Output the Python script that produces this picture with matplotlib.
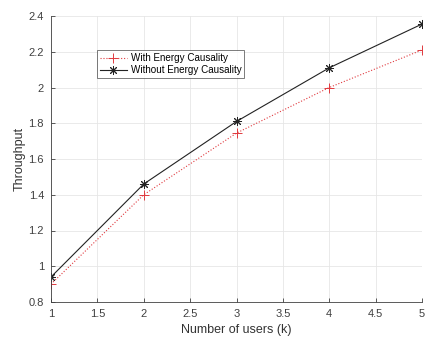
import matplotlib
matplotlib.use("Agg")
import matplotlib.pyplot as plt

plt.rcParams['font.family'] = ['Liberation Sans', 'DejaVu Sans']

users = [1, 2, 3, 4, 5]
with_ec = [0.90, 1.40, 1.745, 2.00, 2.21]
without_ec = [0.94, 1.46, 1.81, 2.11, 2.355]

fig = plt.figure(figsize=(4.29, 3.44), dpi=100)
ax = fig.add_axes([51 / 429, 42 / 344, 371 / 429, 286 / 344])

ax.plot(users, with_ec, color='#e0393e', linestyle=':', linewidth=0.8,
        marker='+', markersize=7, markeredgewidth=0.7, label='With Energy Causality')
ax.plot(users, without_ec, color='#222222', linestyle='-', linewidth=0.8,
        marker=(8, 2, 0), markersize=6.5, markeredgewidth=0.7, label='Without Energy Causality')

ax.set_xlim(1, 5)
ax.set_ylim(0.8, 2.4)
ax.set_xticks([1, 1.5, 2, 2.5, 3, 3.5, 4, 4.5, 5])
ax.set_xticklabels(['1', '1.5', '2', '2.5', '3', '3.5', '4', '4.5', '5'])
ax.set_yticks([0.8, 1, 1.2, 1.4, 1.6, 1.8, 2, 2.2, 2.4])
ax.set_yticklabels(['0.8', '1', '1.2', '1.4', '1.6', '1.8', '2', '2.2', '2.4'])
ax.grid(True, color='#e6e6e6', linewidth=0.6)
ax.set_axisbelow(True)
for s in ['top', 'right']:
    ax.spines[s].set_visible(False)
for s in ['left', 'bottom']:
    ax.spines[s].set_color('#404040')
    ax.spines[s].set_linewidth(0.6)
ax.tick_params(direction='in', length=3, width=0.6, colors='#404040', labelsize=8,
               labelcolor='#404040', pad=5)

ax.set_xlabel('Number of users (k)', fontsize=9, color='#333333', labelpad=4)
ax.set_ylabel('Throughput', fontsize=9, color='#333333', labelpad=2)

leg = ax.legend(loc='upper left', bbox_to_anchor=(0.124, 0.881), fontsize=7.1,
                frameon=True, fancybox=False, edgecolor='#404040', handlelength=2.7,
                borderpad=0.3, labelspacing=0.2, handletextpad=0.4, borderaxespad=0)
leg.get_frame().set_linewidth(0.6)

fig.savefig('out.png', dpi=100)
